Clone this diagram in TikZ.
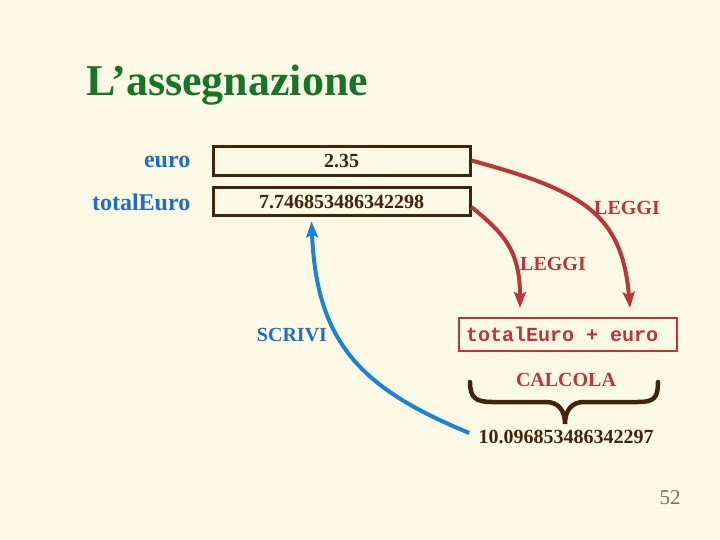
\documentclass[tikz,border=0pt]{standalone}
\usepackage{fontspec}
\setmainfont{Liberation Serif}
\setmonofont{Liberation Mono}
\usetikzlibrary{arrows.meta,positioning,calc}

\definecolor{bgcream}{RGB}{252,250,228}
\definecolor{titlegreen}{RGB}{22,118,40}
\definecolor{varblue}{RGB}{30,108,210}
\definecolor{readred}{RGB}{190,52,56}
\definecolor{cellbrown}{RGB}{66,36,12}
\definecolor{pagegray}{RGB}{125,112,92}

\begin{document}
\begin{tikzpicture}[x=1pt,y=-1pt,
  varname/.style={inner sep=0pt, text=varblue, font=\bfseries\fontsize{24}{28}\selectfont},
  cell/.style={draw=cellbrown, line width=3pt, minimum width=257pt, inner sep=0pt,
    text=cellbrown, font=\bfseries\fontsize{20}{24}\selectfont},
  redlab/.style={inner sep=0pt, text=readred, font=\bfseries\fontsize{20}{24}\selectfont},
  readarrow/.style={draw=readred, line width=4pt, -{Stealth[length=16pt,width=12pt,inset=3pt]}}]
% background
\fill[bgcream] (0,0) rectangle (720,540);
\useasboundingbox (0,0) rectangle (720,540);
% title
\node[anchor=base west, inner sep=0pt, text=titlegreen, font=\bfseries\fontsize{44}{50}\selectfont] (title) at (86,96) {L’assegnazione};
% variables
\node[cell, minimum height=29pt] (euroval) at (341.5,161.5) {2.35};
\node[cell, minimum height=28pt] (totalval) at (341.5,202) {7.746853486342298};
\node[varname, left=21pt of euroval] (euro) {euro};
\node[varname, left=21pt of totalval] (total) {totalEuro};
% expression
\node[draw=readred, line width=2pt, minimum width=218pt, minimum height=33pt, inner sep=0pt,
  text=readred, font=\ttfamily\bfseries\fontsize{20}{24}\selectfont] (calc) at (568,334.5) {\makebox[204pt][l]{totalEuro + euro}};
\node[redlab] (calcola) at (566,380) {CALCOLA};
\node[inner sep=0pt, text=cellbrown, font=\bfseries\fontsize{20}{24}\selectfont] (result) at (566,437) {10.096853486342297};
% reading arrows
\draw[readarrow] ([yshift=1pt]euroval.east) .. controls +(110,30) and +(-8,-95) .. ([xshift=62pt,yshift=9pt]calc.north);
\draw[readarrow] ([yshift=-5pt]totalval.east) .. controls +(30,25) and +(0,-60) .. ([xshift=-48pt,yshift=9pt]calc.north);
\node[redlab] (leggia) at (627,208) {LEGGI};
\node[redlab] (leggib) at (553,264) {LEGGI};
% brace
\draw[cellbrown, line width=4.5pt, line cap=round] (470,382) .. controls (470,398) and (476,402) .. (492,402) -- (546,402)
  .. controls (558,402) and (565,410) .. (565,424) .. controls (565,410) and (572,402) .. (584,402) -- (638,402)
  .. controls (654,402) and (658,398) .. (658,382);
% writing arrow
\draw[varblue!85!cyan, line width=4pt, -{Stealth[length=16pt,width=12pt,inset=3pt]}]
  ([xshift=-9pt,yshift=4pt]result.west) .. controls +(-110,-45) and +(5,120) .. ([xshift=-30pt,yshift=-4pt]totalval.south);
\node[inner sep=0pt, text=varblue, font=\bfseries\fontsize{20}{24}\selectfont] (scrivi) at (292,335) {SCRIVI};
% page number
\node[inner sep=0pt, text=pagegray, font=\fontsize{21}{24}\selectfont] (pagenum) at (670,498) {52};
\end{tikzpicture}
\end{document}
